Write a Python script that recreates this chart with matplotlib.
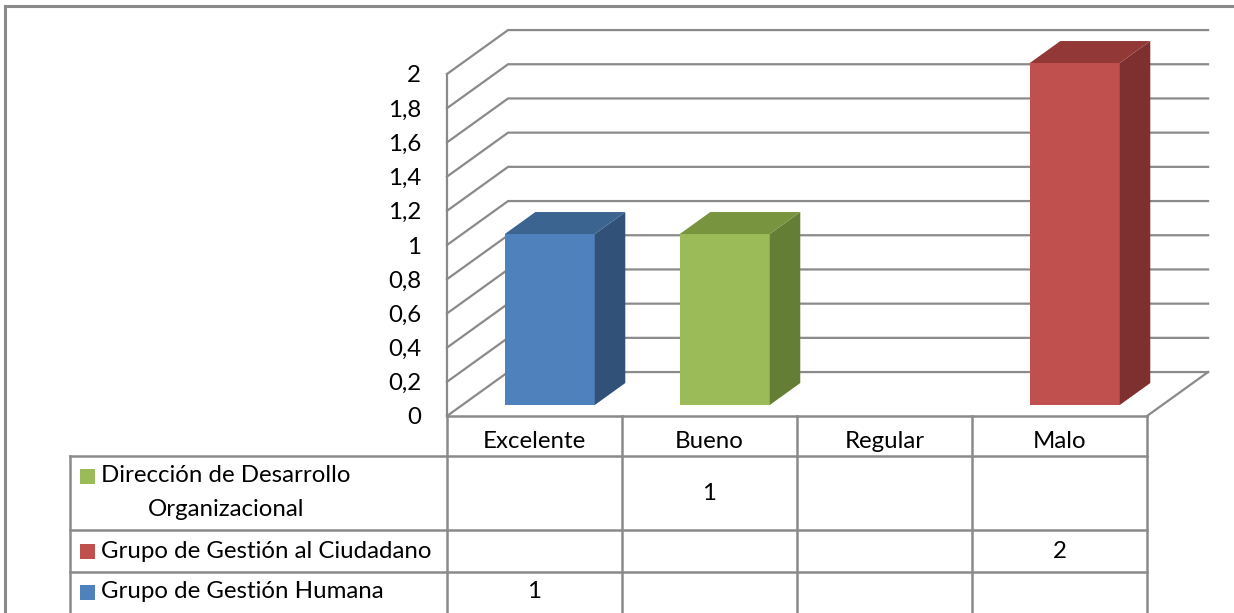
import numpy as np
import matplotlib.pyplot as plt
from matplotlib.patches import Polygon, Rectangle

plt.rcParams['font.family'] = ['Lato', 'DejaVu Sans']

# Datos del grafico
categorias = ['Excelente', 'Bueno', 'Regular', 'Malo']
series = ['Dirección de Desarrollo\nOrganizacional',
          'Grupo de Gestión al Ciudadano',
          'Grupo de Gestión Humana']
direccion = [np.nan, 1, np.nan, np.nan]
ciudadano = [np.nan, np.nan, np.nan, 2]
humana = [1, np.nan, np.nan, np.nan]
valores = [direccion, ciudadano, humana]
yticks = [0, 0.2, 0.4, 0.6, 0.8, 1, 1.2, 1.4, 1.6, 1.8, 2]

col_frente = ['#9BBB59', '#C0504D', '#4F81BD']
col_arriba = ['#78943F', '#923937', '#3C6491']
col_lado = ['#657E36', '#7D302F', '#315179']
gris = '#8a8a8a'

# geometria en pixeles
W, H = 1234, 613
x0, x1 = 447, 1147      # plano frontal
y0, y1 = 416, 74        # valor 0 y valor 2
DX, DY = 0.349, 0.257   # profundidad (unidades de datos)
fs = 17.3

fig = plt.figure(figsize=(W / 100, H / 100), dpi=100)

# capa para marco y tabla (coordenadas en pixeles)
ov = fig.add_axes([0, 0, 1, 1], zorder=0)
ov.set_xlim(0, W)
ov.set_ylim(H, 0)
ov.axis('off')

ax = fig.add_axes([x0 / W, 1 - y0 / H, (x1 - x0) / W, (y0 - y1) / H], zorder=1)
ax.patch.set_visible(False)
ax.set_xlim(-0.5, len(categorias) - 0.5)
ax.set_ylim(0, 2)
for s in ax.spines.values():
    s.set_visible(False)

ax.set_yticks(yticks)
ax.set_yticklabels([('%g' % v).replace('.', ',') for v in yticks], fontsize=fs)
ax.set_xticks([])
ax.tick_params(axis='y', length=0, pad=18.5)

# paredes y lineas de division
xa, xb = -0.5, len(categorias) - 0.5
for v in yticks:
    ax.plot([xa, xa + DX, xb + DX], [v, v + DY, v + DY], color=gris, lw=1.6,
            clip_on=False, zorder=1, solid_joinstyle='miter')
ax.plot([xa, xa], [0, 2], color=gris, lw=1.6, clip_on=False, zorder=1)
ax.plot([xb, xb + DX], [0, DY], color=gris, lw=1.6, clip_on=False, zorder=1)

# barras 3D
w = 0.514
d0 = 0.25
for k, serie in enumerate(valores):
    for i, v in enumerate(serie):
        if np.isnan(v):
            continue
        xl = i - w / 2 + d0 * DX
        xr = xl + w
        yb = d0 * DY
        yt = v + d0 * DY
        ax.bar(i + d0 * DX, v, width=w, bottom=yb, color=col_frente[k],
               zorder=3, clip_on=False)
        lado = [(xr, yb), (xr + 0.5 * DX, yb + 0.5 * DY),
                (xr + 0.5 * DX, yt + 0.5 * DY), (xr, yt)]
        arriba = [(xl, yt), (xr, yt), (xr + 0.5 * DX, yt + 0.5 * DY),
                  (xl + 0.5 * DX, yt + 0.5 * DY)]
        ax.add_patch(Polygon(lado, closed=True, facecolor=col_lado[k],
                             edgecolor='none', zorder=3, clip_on=False))
        ax.add_patch(Polygon(arriba, closed=True, facecolor=col_arriba[k],
                             edgecolor='none', zorder=3, clip_on=False))

# marco exterior
ov.plot([5, 5], [6, H], color=gris, lw=2.2)
ov.plot([5, W], [6, 6], color=gris, lw=2.2)

# tabla de datos
cw = (x1 - x0) / len(categorias)
xs = [x0 + cw * i for i in range(len(categorias) + 1)]
tl = 70
filas = [(456, 530), (530, 572), (572, 615)]

ov.plot([x0, x1], [y0, y0], color=gris, lw=1.8)
for (ya, yb_) in filas:
    ov.plot([tl, x1], [ya, ya], color=gris, lw=1.8)
ov.plot([tl, tl], [filas[0][0], H], color=gris, lw=1.8)
for xv in xs:
    ov.plot([xv, xv], [y0, H], color=gris, lw=1.8)

for i, c in enumerate(categorias):
    ov.text((xs[i] + xs[i + 1]) / 2, 441, c, fontsize=fs, ha='center', va='center')

for k, nombre in enumerate(series):
    ya, yb_ = filas[k]
    lineas = nombre.split('\n')
    yc = (ya + yb_) / 2
    yl = yc if len(lineas) == 1 else ya + 20
    if k == len(series) - 1:
        yl = 592
        yc = 592
    ov.add_patch(Rectangle((80, yl - 7.5), 15, 15, facecolor=col_frente[k],
                           edgecolor='none'))
    ov.text(101, yl, lineas[0], fontsize=fs, va='center', ha='left')
    for j, extra in enumerate(lineas[1:]):
        ov.text(148, yl + 33 * (j + 1), extra, fontsize=fs, va='center', ha='left')
    for i, v in enumerate(valores[k]):
        if not np.isnan(v):
            ov.text((xs[i] + xs[i + 1]) / 2, yc, '%g' % v, fontsize=fs,
                    ha='center', va='center')

fig.savefig('out.png', dpi=100)
